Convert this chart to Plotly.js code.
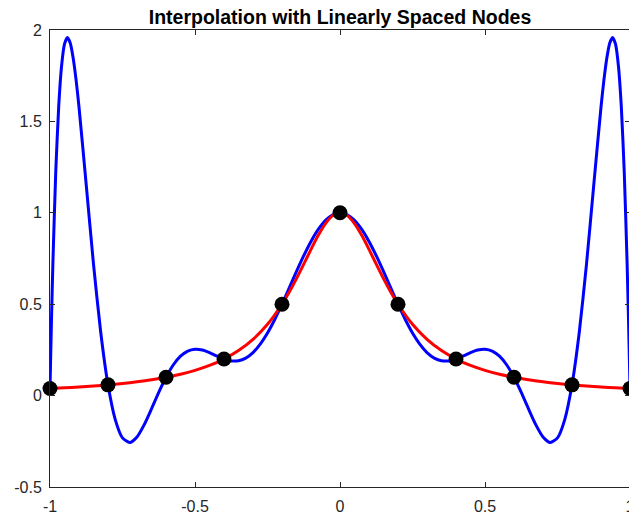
<!DOCTYPE html>
<html>
<head>
<meta charset="utf-8">
<script src="https://cdn.plot.ly/plotly-3.0.1.min.js"></script>
<style>
html,body{margin:0;padding:0;overflow:hidden;background:#fff;}
#chart{width:640px;height:518px;}
</style>
</head>
<body>
<div id="chart"></div>
<script>
// Runge function (red) sampled values
var redX = [-1,-0.95,-0.9,-0.85,-0.8,-0.75,-0.7,-0.65,-0.6,-0.55,-0.5,-0.45,-0.4,-0.35,-0.3,-0.25,-0.2,-0.175,-0.15,-0.125,-0.1,-0.075,-0.05,-0.025,0,
            0.025,0.05,0.075,0.1,0.125,0.15,0.175,0.2,0.25,0.3,0.35,0.4,0.45,0.5,0.55,0.6,0.65,0.7,0.75,0.8,0.85,0.9,0.95,1];
var redY = [0.0385,0.0424,0.0471,0.0525,0.0588,0.0664,0.0755,0.0865,0.1,0.1168,0.1379,0.1649,0.2,0.2462,0.3077,0.3902,0.5,0.5664,0.64,0.7191,0.8,0.8767,0.9412,0.9846,1,
            0.9846,0.9412,0.8767,0.8,0.7191,0.64,0.5664,0.5,0.3902,0.3077,0.2462,0.2,0.1649,0.1379,0.1168,0.1,0.0865,0.0755,0.0664,0.0588,0.0525,0.0471,0.0424,0.0385];

// Interpolating polynomial (blue) sampled values
var blueX = [-1,-0.995,-0.99,-0.98,-0.97,-0.96,-0.95,-0.94,-0.93,-0.92,-0.91,-0.9,-0.875,-0.85,-0.825,-0.8,-0.775,-0.75,-0.725,-0.7,-0.675,-0.65,-0.625,-0.6,-0.575,-0.55,-0.525,-0.5,-0.475,-0.45,-0.425,-0.4,-0.375,-0.35,-0.325,-0.3,-0.275,-0.25,-0.225,-0.2,-0.175,-0.15,-0.125,-0.1,-0.075,-0.05,-0.025,
             0,
             0.025,0.05,0.075,0.1,0.125,0.15,0.175,0.2,0.225,0.25,0.275,0.3,0.325,0.35,0.375,0.4,0.425,0.45,0.475,0.5,0.525,0.55,0.575,0.6,0.625,0.65,0.675,0.7,0.725,0.75,0.775,0.8,0.825,0.85,0.875,0.9,0.91,0.92,0.93,0.94,0.95,0.96,0.97,0.98,0.99,0.995,1];
var blueY = [0.0385,0.4072,0.7261,1.2303,1.5810,1.8044,1.9236,1.9590,1.9280,1.8459,1.7257,1.5787,1.1517,0.7195,0.3450,0.0588,-0.1312,-0.2315,-0.2569,-0.2262,-0.1588,-0.0726,0.0175,0.1,0.1674,0.2156,0.2438,0.2538,0.2493,0.2350,0.2167,0.2,0.1899,0.1906,0.2052,0.2354,0.2815,0.3426,0.4166,0.5,0.5890,0.6790,0.7653,0.8434,0.9090,0.9586,0.9895,
             1,
             0.9895,0.9586,0.9090,0.8434,0.7653,0.6790,0.5890,0.5,0.4166,0.3426,0.2815,0.2354,0.2052,0.1906,0.1899,0.2,0.2167,0.2350,0.2493,0.2538,0.2438,0.2156,0.1674,0.1,0.0175,-0.0726,-0.1588,-0.2262,-0.2569,-0.2315,-0.1312,0.0588,0.3450,0.7195,1.1517,1.5787,1.7257,1.8459,1.9280,1.9590,1.9236,1.8044,1.5810,1.2303,0.7261,0.4072,0.0385];

// Interpolation nodes
var nodeX = [-1,-0.8,-0.6,-0.4,-0.2,0,0.2,0.4,0.6,0.8,1];
var nodeY = [0.0385,0.0588,0.1,0.2,0.5,1,0.5,0.2,0.1,0.0588,0.0385];

var xTicks = [-1,-0.5,0,0.5,1];
var xTickText = ['-1','-0.5','0','0.5','1'];
var yTicks = [-0.5,0,0.5,1,1.5,2];
var yTickText = ['-0.5','0','0.5','1','1.5','2'];

var traces = [
  {x: blueX, y: blueY, mode: 'lines', line: {color: '#0000ff', width: 3, shape: 'spline', smoothing: 0.6}, hoverinfo: 'skip'},
  {x: redX, y: redY, mode: 'lines', line: {color: '#ff0000', width: 3, shape: 'spline', smoothing: 0.6}, hoverinfo: 'skip'},
  {x: nodeX, y: nodeY, mode: 'markers', marker: {color: '#000000', size: 15}, cliponaxis: false, hoverinfo: 'skip'}
];

var axisCommon = {
  showgrid: false, zeroline: false, showline: true, linecolor: '#262626', linewidth: 1,
  mirror: 'ticks', ticks: 'inside', ticklen: 5, tickcolor: '#262626', tickwidth: 1,
  tickfont: {family: 'Liberation Sans, Arial, sans-serif', size: 16, color: '#262626'}
};

var layout = {
  width: 640, height: 518,
  margin: {l: 50, r: 10, t: 30, b: 31},
  paper_bgcolor: '#ffffff', plot_bgcolor: '#ffffff',
  showlegend: false,
  title: {text: '<b>Interpolation with Linearly Spaced Nodes</b>', x: 0.5, xref: 'paper', y: 0.967, yref: 'container', yanchor: 'middle',
          font: {family: 'Liberation Sans, Arial, sans-serif', size: 19.5, color: '#000000'}},
  xaxis: Object.assign({}, axisCommon, {range: [-1, 1], tickvals: xTicks, ticktext: xTickText, ticklabelstandoff: 5}),
  yaxis: Object.assign({}, axisCommon, {range: [-0.5, 2], tickvals: yTicks, ticktext: yTickText, ticklabelstandoff: 4})
};

Plotly.newPlot('chart', traces, layout, {displayModeBar: false, staticPlot: true});
</script>
</body>
</html>
